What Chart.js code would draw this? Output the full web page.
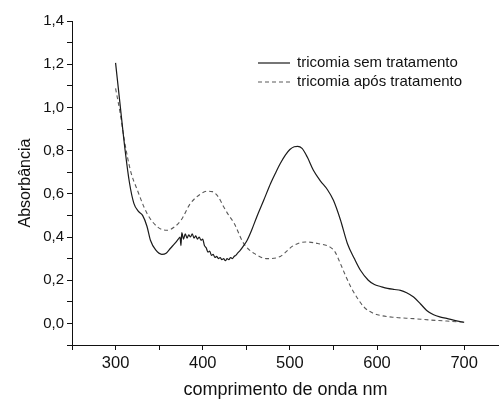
<!DOCTYPE html>
<html>
<head>
<meta charset="utf-8">
<script src="https://cdn.jsdelivr.net/npm/chart.js@4"></script>
<style>
  html, body { margin: 0; padding: 0; background: #fff; }
  #chart { display: block; }
</style>
</head>
<body>
<canvas id="chart" width="499" height="399"></canvas>
<script>
// espectros (comprimento de onda nm / absorbância)
var semTratNm = [300, 305, 311, 316, 321, 326, 331, 336, 340, 346, 353, 358, 363, 368, 372,
  374, 375, 376, 378, 380, 382, 384, 386, 388, 390, 392, 394, 396, 398, 400, 402, 404, 406, 408,
  410, 412, 414, 416, 418, 420, 422, 424, 426, 428, 430, 432, 434, 436, 438, 440, 443, 447, 451,
  456, 462, 470, 478, 484, 489, 495, 500, 505, 509, 514, 520, 527, 535, 543, 550, 558, 566, 574,
  581, 590, 597, 604, 612, 620, 627, 634, 642, 650, 657, 665, 672, 680, 690, 700];
var semTratAbs = [1.206, 1.02, 0.80, 0.65, 0.556, 0.52, 0.50, 0.45, 0.385, 0.34, 0.32, 0.325, 0.348, 0.37, 0.39,
  0.40, 0.36, 0.42, 0.39, 0.415, 0.395, 0.41, 0.40, 0.415, 0.395, 0.405, 0.39, 0.40, 0.385, 0.39, 0.36, 0.35, 0.33, 0.335,
  0.315, 0.32, 0.305, 0.31, 0.30, 0.305, 0.295, 0.30, 0.29, 0.30, 0.295, 0.305, 0.30, 0.31, 0.315, 0.325, 0.338, 0.36, 0.385,
  0.43, 0.493, 0.57, 0.649, 0.70, 0.74, 0.78, 0.805, 0.818, 0.82, 0.81, 0.77, 0.709, 0.66, 0.62, 0.57, 0.48, 0.37, 0.30,
  0.246, 0.20, 0.18, 0.171, 0.162, 0.157, 0.153, 0.142, 0.122, 0.09, 0.06, 0.04, 0.03, 0.023, 0.013, 0.005];

var aposTratNm = [300, 305, 310, 317, 325, 336, 348, 359, 367, 375, 386, 398, 405, 411, 418, 424,
  430, 436, 447, 459, 474, 489, 504, 518, 532, 547, 552, 558, 564, 570, 577, 585, 594, 604, 620,
  642, 660, 680, 700];
var aposTratAbs = [1.088, 0.98, 0.85, 0.709, 0.617, 0.51, 0.447, 0.431, 0.445, 0.477, 0.556, 0.60, 0.612, 0.61, 0.585, 0.54,
  0.50, 0.464, 0.37, 0.324, 0.30, 0.31, 0.36, 0.377, 0.37, 0.351, 0.33, 0.277, 0.22, 0.168, 0.12, 0.076, 0.05, 0.037, 0.028,
  0.022, 0.016, 0.011, 0.005];

var serieNomes = ["tricomia sem tratamento", "tricomia após tratamento"];
var xTitulo = "comprimento de onda nm";
var yTitulo = "Absorbância";

function pares(xs, ys) {
  return xs.map(function (x, i) { return { x: x, y: ys[i] }; });
}

// legenda desenhada dentro da área do gráfico, como no original
var legendaInterna = {
  id: "legendaInterna",
  afterDraw: function (chart) {
    var ctx = chart.ctx;
    var x0 = 258, x1 = 290, tx = 297;
    var ys = [63, 82];
    ctx.save();
    ctx.font = "15px 'Liberation Sans', Arial, sans-serif";
    ctx.textBaseline = "middle";
    ctx.fillStyle = "#111";
    chart.data.datasets.forEach(function (ds, i) {
      ctx.beginPath();
      ctx.strokeStyle = ds.borderColor;
      ctx.lineWidth = ds.borderWidth;
      ctx.setLineDash(ds.borderDash || []);
      ctx.moveTo(x0, ys[i]);
      ctx.lineTo(x1, ys[i]);
      ctx.stroke();
      ctx.setLineDash([]);
      ctx.fillText(ds.label, tx, ys[i]);
    });
    ctx.restore();
  }
};

var familia = "'Liberation Sans', Arial, sans-serif";

new Chart(document.getElementById("chart"), {
  type: "line",
  data: {
    datasets: [
      {
        label: serieNomes[0],
        data: pares(semTratNm, semTratAbs),
        borderColor: "#1a1a1a",
        borderWidth: 1.2,
        pointRadius: 0,
        cubicInterpolationMode: "monotone",
        fill: false
      },
      {
        label: serieNomes[1],
        data: pares(aposTratNm, aposTratAbs),
        borderColor: "#5a5a5a",
        borderWidth: 1.1,
        borderDash: [4, 3],
        pointRadius: 0,
        cubicInterpolationMode: "monotone",
        fill: false
      }
    ]
  },
  options: {
    responsive: false,
    animation: false,
    layout: { padding: { top: 21, right: 0, left: 0, bottom: 0 } },
    plugins: {
      legend: { display: false },
      tooltip: { enabled: false }
    },
    scales: {
      x: {
        type: "linear",
        min: 250,
        max: 740,
        afterBuildTicks: function (s) {
          s.ticks = s.ticks.filter(function (t) { return t.value % 50 === 0; });
        },
        afterFit: function (s) { s.height = 54; },
        ticks: {
          stepSize: 50,
          includeBounds: false,
          autoSkip: false,
          maxRotation: 0,
          padding: 4,
          color: "#111",
          font: { family: familia, size: 16.5 },
          callback: function (v) { return (v % 100 === 0 && v >= 300) ? String(v) : ""; }
        },
        grid: { drawOnChartArea: false, tickLength: 5, color: "#111", tickColor: "#111" },
        border: { color: "#111", width: 1 },
        title: { display: true, text: xTitulo, color: "#111", font: { family: familia, size: 18, lineHeight: 1 }, padding: { top: 0, bottom: 0 } }
      },
      y: {
        min: -0.1,
        max: 1.4,
        afterFit: function (s) { s.width = 72; },
        ticks: {
          stepSize: 0.1,
          autoSkip: false,
          padding: 3,
          color: "#111",
          font: { family: familia, size: 15 },
          callback: function (v) {
            var k = Math.round(v * 10);
            if (k < 0 || k % 2 !== 0) return "";
            return (k / 10).toFixed(1).replace(".", ",");
          }
        },
        grid: { drawOnChartArea: false, tickLength: 5, color: "#111", tickColor: "#111" },
        border: { color: "#111", width: 1 },
        title: { display: true, text: yTitulo, color: "#111", font: { family: familia, size: 16 }, padding: { top: 16, bottom: 0 } }
      }
    }
  },
  plugins: [legendaInterna]
});
</script>
</body>
</html>
